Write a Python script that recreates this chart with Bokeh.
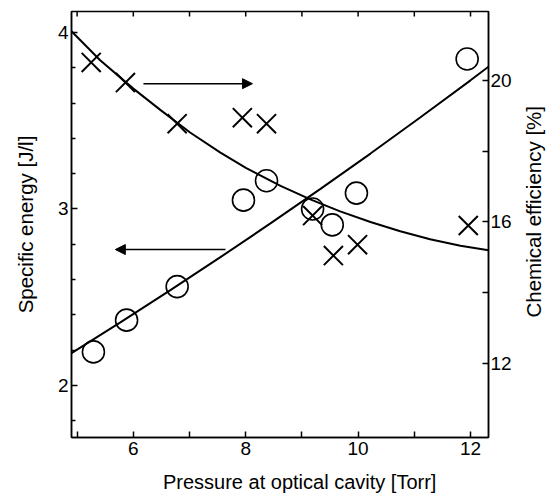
import math
from bokeh.plotting import figure
from bokeh.models import (LinearAxis, Range1d, FixedTicker, Arrow, NormalHead)
from bokeh.embed import file_html
from bokeh.resources import INLINE

# ---- data ----
pressure_circle = [5.29, 5.88, 6.78, 7.96, 8.37, 9.19, 9.54, 9.97, 11.94]
specific_energy = [2.19, 2.37, 2.56, 3.05, 3.16, 3.00, 2.91, 3.09, 3.85]

pressure_cross = [5.25, 5.86, 6.78, 7.94, 8.37, 9.19, 9.56, 9.99, 11.96]
chemical_eff = [20.51, 19.94, 18.78, 18.95, 18.78, 16.18, 15.05, 15.36, 15.90]

fit_pressure_energy = [4.90, 5.77, 6.66, 7.55, 8.44, 9.33, 10.22, 11.11, 12.0, 12.32]
fit_energy = [2.183, 2.357, 2.540, 2.727, 2.918, 3.114, 3.314, 3.520, 3.729, 3.806]

fit_pressure_eff = [4.90, 5.41, 6.00, 6.48, 7.01, 7.55, 8.01, 8.62, 9.15, 9.68,
                    10.22, 10.75, 11.28, 11.82, 12.32]
fit_eff = [21.39, 20.57, 19.77, 19.17, 18.53, 17.96, 17.52, 17.02, 16.64, 16.30,
           16.00, 15.74, 15.51, 15.33, 15.20]

x_major = [6, 8, 10, 12]
x_minor = [5, 7, 9, 11]
x_top = [5, 6, 7, 8, 9, 10, 11, 12]
left_major = [2, 3, 4]
left_minor = [1.8, 2.2, 2.4, 2.6, 2.8, 3.2, 3.4, 3.6, 3.8]
right_major = [12, 16, 20]
right_minor = [14, 18]

x_title = "Pressure at optical cavity [Torr]"
left_title = "Specific energy [J/l]"
right_title = "Chemical efficiency [%]"

FONT = "Liberation Sans"

x_rng = Range1d(4.90, 12.32)
y_rng = Range1d(1.705, 4.119)
eff_rng = Range1d(9.908, 21.95)

# where the (slightly off-centre) titles sit in the reference, in axis units
x_title_at = 8.96         # centre of the bottom title, pressure units
right_title_from = 13.30  # start of the right title, efficiency units

p = figure(width=559, height=499, x_range=x_rng, y_range=y_rng,
           output_backend="svg", toolbar_location=None,
           x_axis_location=None, y_axis_location=None,
           min_border_left=71, min_border_right=71, min_border_top=11,
           min_border_bottom=62)
p.extra_y_ranges = {"eff": eff_rng}
p.grid.visible = False
p.outline_line_color = "black"
p.outline_line_width = 1.5
p.background_fill_color = "white"
p.border_fill_color = "white"


def style(ax, tick_len, minor_len, label_size="19px"):
    ax.axis_line_width = 1.5
    ax.axis_line_color = "black"
    ax.major_tick_in = tick_len
    ax.major_tick_out = 0
    ax.minor_tick_in = minor_len
    ax.minor_tick_out = 0
    ax.major_tick_line_width = 1.5
    ax.minor_tick_line_width = 1.5
    ax.major_label_text_font = FONT
    ax.major_label_text_font_size = label_size
    ax.major_label_text_color = "black"
    ax.axis_label_text_font = FONT
    ax.axis_label_text_font_style = "normal"
    ax.axis_label_text_color = "black"


def title_axis(ax, size):
    ax.axis_line_color = None
    ax.major_tick_line_color = None
    ax.minor_tick_line_color = None
    ax.major_tick_in = 0
    ax.major_tick_out = 0
    ax.minor_tick_in = 0
    ax.minor_tick_out = 0
    ax.major_label_text_font = FONT
    ax.major_label_text_font_size = size
    ax.major_label_text_color = "black"


bottom = LinearAxis(ticker=FixedTicker(ticks=x_major, minor_ticks=x_minor))
style(bottom, 6, 6)
bottom.major_label_standoff = 4
p.add_layout(bottom, "below")

bottom_title = LinearAxis(ticker=FixedTicker(ticks=[x_title_at], minor_ticks=[]),
                          major_label_overrides={x_title_at: x_title})
title_axis(bottom_title, "20px")
bottom_title.major_label_standoff = 13
p.add_layout(bottom_title, "below")

left = LinearAxis(ticker=FixedTicker(ticks=left_major, minor_ticks=left_minor),
                  axis_label=left_title)
style(left, 6, 4)
left.axis_label_text_font_size = "20.5px"
left.major_label_standoff = 3
left.axis_label_standoff = 18
p.add_layout(left, "left")

right = LinearAxis(y_range_name="eff",
                   ticker=FixedTicker(ticks=right_major, minor_ticks=right_minor))
style(right, 6, 6)
right.major_label_standoff = 2
p.add_layout(right, "right")

right_t = LinearAxis(y_range_name="eff",
                     ticker=FixedTicker(ticks=[right_title_from], minor_ticks=[]),
                     major_label_overrides={right_title_from: right_title},
                     major_label_orientation=math.pi / 2)
title_axis(right_t, "20.5px")
right_t.major_label_standoff = 19
p.add_layout(right_t, "right")

# inward tick marks along the top edge (no labels there)
p.ray(x=x_top, y=[y_rng.end] * len(x_top), length=5, length_units="screen",
      angle=-math.pi / 2, line_color="black", line_width=1.5)

# fitted curves
p.line(fit_pressure_energy, fit_energy, line_color="black", line_width=2)
p.line(fit_pressure_eff, fit_eff, line_color="black", line_width=2,
       y_range_name="eff")

# data points
p.scatter(pressure_circle, specific_energy, marker="circle", size=22,
          fill_color=None, line_color="black", line_width=1.6)
p.scatter(pressure_cross, chemical_eff, marker="x", size=27,
          line_color="black", line_width=2, y_range_name="eff")

# arrows indicating the axis for each series
p.add_layout(Arrow(end=NormalHead(size=10, fill_color="black", line_color="black"),
                   x_start=6.18, y_start=3.71, x_end=8.12, y_end=3.71,
                   line_width=1.5, line_color="black"))
p.add_layout(Arrow(end=NormalHead(size=10, fill_color="black", line_color="black"),
                   x_start=7.64, y_start=2.77, x_end=5.68, y_end=2.77,
                   line_width=1.5, line_color="black"))

open("out.html", "w").write(file_html(p, INLINE))
